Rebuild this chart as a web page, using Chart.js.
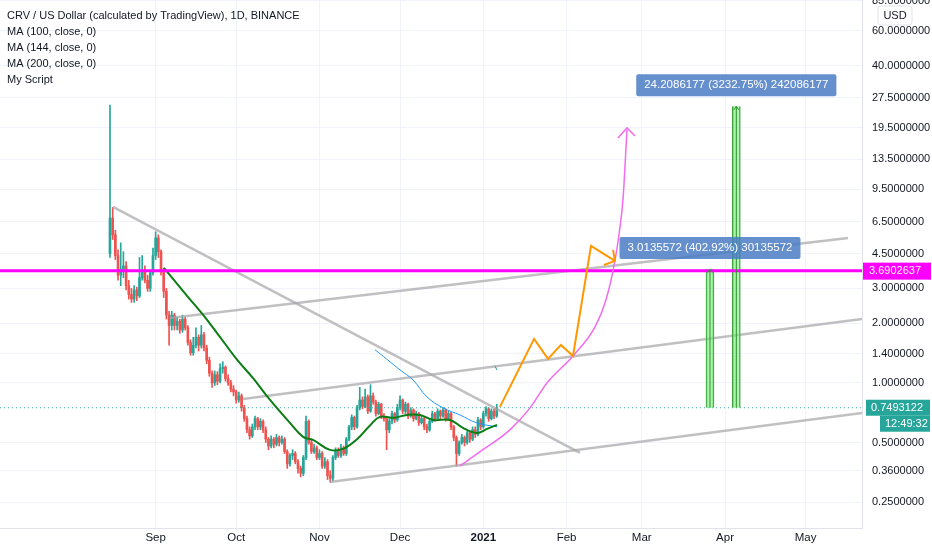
<!DOCTYPE html>
<html>
<head>
<meta charset="utf-8">
<script src="https://cdn.jsdelivr.net/npm/chart.js@4.4.0/dist/chart.umd.min.js"></script>
<style>
html, body { margin: 0; padding: 0; background: #fff; }
#wrap { width: 932px; height: 550px; }
</style>
</head>
<body>
<div id="wrap"><canvas id="graf"></canvas></div>
<script>
// day 0 = 15 Aug 2020, one candle per day
var opens = [4.5,6.8,5.6,4.4,3.5,3.75,3.9,3.1,2.8,2.65, 2.95,2.75,3.4,3.7,3.3,3.0,3.6,4.4,5.4,4.6,
  3.7,2.9,2.2,1.95,2.2,1.95,2.05,1.85,2.1,1.9, 1.6,1.42,1.55,1.7,1.55,1.75,1.5,1.3,1.12,1.0,
  1.1,1.02,1.18,1.2,1.05,1.0,0.93,0.9,0.82,0.86, 0.75,0.66,0.58,0.54,0.6,0.66,0.6,0.64,0.58,0.52,
  0.48,0.52,0.49,0.53,0.5,0.52,0.45,0.39,0.43,0.44, 0.4,0.37,0.35,0.42,0.64,0.5,0.45,0.47,0.42,0.44,
  0.38,0.4,0.34,0.33,0.42,0.45,0.43,0.47,0.44,0.52, 0.6,0.67,0.6,0.75,0.82,0.76,0.85,0.72,0.86,0.8,
  0.7,0.78,0.68,0.66,0.58,0.64,0.7,0.65,0.75,0.82, 0.72,0.78,0.68,0.73,0.66,0.7,0.63,0.66,0.6,0.58,
  0.64,0.7,0.66,0.72,0.68,0.73,0.66,0.7,0.6,0.53, 0.44,0.5,0.53,0.5,0.56,0.52,0.58,0.55,0.65,0.6,
  0.7,0.74,0.66,0.72,0.68];
var highs = [25.3,7.7,5.9,4.7,5.1,4.6,4.1,3.3,3.0,3.1, 3.05,4.3,4.4,3.9,3.5,3.7,4.8,5.8,5.6,4.7,
  3.8,3.0,2.3,2.3,2.25,2.15,2.1,2.2,2.15,1.95, 1.65,1.7,1.9,1.75,1.95,1.8,1.55,1.35,1.15,1.15,
  1.14,1.25,1.28,1.22,1.1,1.03,0.97,0.92,0.9,0.88, 0.77,0.68,0.6,0.62,0.68,0.67,0.66,0.65,0.6,0.53,
  0.54,0.53,0.55,0.54,0.54,0.53,0.46,0.44,0.46,0.45, 0.41,0.38,0.43,0.68,0.65,0.52,0.49,0.48,0.46,0.45,
  0.42,0.41,0.36,0.43,0.47,0.47,0.49,0.48,0.53,0.61, 0.69,0.68,0.77,0.95,0.85,0.93,0.87,0.98,0.89,0.82,
  0.8,0.79,0.7,0.67,0.66,0.72,0.71,0.78,0.86,0.83, 0.8,0.79,0.75,0.74,0.72,0.71,0.68,0.67,0.62,0.65,
  0.72,0.71,0.74,0.73,0.75,0.74,0.72,0.71,0.61,0.54, 0.51,0.55,0.54,0.57,0.57,0.6,0.6,0.67,0.66,0.72,
  0.76,0.75,0.74,0.74,0.78];
var lows = [4.3,5.3,4.2,3.3,3.1,3.4,2.95,2.65,2.55,2.55, 2.6,2.7,3.3,3.2,2.9,2.9,3.5,4.2,4.3,3.5,
  2.7,2.1,1.55,1.85,1.85,1.85,1.78,1.8,1.85,1.55, 1.38,1.38,1.5,1.45,1.5,1.45,1.25,1.08,0.95,0.97,
  0.98,1.0,1.12,1.02,0.97,0.9,0.86,0.79,0.8,0.72, 0.64,0.56,0.52,0.53,0.58,0.58,0.58,0.56,0.5,0.46,
  0.47,0.47,0.48,0.48,0.49,0.44,0.37,0.38,0.41,0.39, 0.35,0.335,0.34,0.41,0.49,0.44,0.44,0.41,0.41,0.37,
  0.37,0.325,0.315,0.32,0.41,0.42,0.42,0.43,0.43,0.51, 0.58,0.58,0.59,0.73,0.74,0.75,0.7,0.71,0.78,0.68,
  0.69,0.66,0.64,0.46,0.56,0.62,0.63,0.64,0.73,0.7, 0.7,0.66,0.67,0.64,0.65,0.61,0.62,0.58,0.56,0.57,
  0.63,0.64,0.65,0.66,0.67,0.64,0.65,0.58,0.51,0.38, 0.43,0.49,0.48,0.49,0.5,0.51,0.53,0.54,0.58,0.59,
  0.68,0.64,0.65,0.66,0.67];
var closes = [6.8,5.6,4.4,3.5,3.75,3.9,3.1,2.8,2.65,2.95, 2.75,3.4,3.7,3.3,3.0,3.6,4.4,5.4,4.6,3.7,
  2.9,2.2,1.95,2.2,1.95,2.05,1.85,2.1,1.9,1.6, 1.42,1.55,1.7,1.55,1.75,1.5,1.3,1.12,1.0,1.1,
  1.02,1.18,1.2,1.05,1.0,0.93,0.9,0.82,0.86,0.75, 0.66,0.58,0.54,0.6,0.66,0.6,0.64,0.58,0.52,0.48,
  0.52,0.49,0.53,0.5,0.52,0.45,0.39,0.43,0.44,0.4, 0.37,0.35,0.42,0.64,0.5,0.45,0.47,0.42,0.44,0.38,
  0.4,0.34,0.33,0.42,0.45,0.43,0.47,0.44,0.52,0.6, 0.67,0.6,0.75,0.82,0.76,0.85,0.72,0.86,0.8,0.7,
  0.78,0.68,0.66,0.58,0.64,0.7,0.65,0.75,0.82,0.72, 0.78,0.68,0.73,0.66,0.7,0.63,0.66,0.6,0.58,0.64,
  0.7,0.66,0.72,0.68,0.73,0.66,0.7,0.6,0.53,0.44, 0.5,0.53,0.5,0.56,0.52,0.58,0.55,0.65,0.6,0.7,
  0.74,0.66,0.72,0.68,0.7493122];

// moving averages [day, price]
var maGreen = [[20.1,3.81],[29,2.72],[34.6,2.21],[39.8,1.79],[47.3,1.31],[53.2,1.06],[59.6,0.82],
  [67,0.628],[71.9,0.534],[75.6,0.515],[81.9,0.459],[86.7,0.464],[92,0.52],[96.8,0.61],[100.5,0.674],
  [105.4,0.666],[110.6,0.689],[115.4,0.689],[120.3,0.65],[126.6,0.65],[131.4,0.593],[136.6,0.559],
  [140.4,0.586],[144.1,0.614]];
var maBlue = [[98.7,1.47],[103,1.32],[108,1.163],[112.8,1.036],[118,0.85],[124,0.748],[130.3,0.689],
  [136.6,0.628],[144.1,0.6]];
var maTeal = [[143.3,1.22],[144.1,1.16]];

// drawings [day, price]
var trendDown = [[1.1,7.74],[175,0.443]];
var channelTop = [[22.3,2.13],[274.8,5.4]];
var channelMid = [[49.5,0.83],[280,2.105]];
var channelLow = [[81.9,0.316],[280,0.705]];
var pathOrange = [[145.2,0.757],[157.9,1.668],[163.1,1.322],[167.9,1.556],[172.4,1.369],[179.1,4.92],[188,4.13]];
var arrowOrange = [[183.9,3.94],[188,4.13],[187.3,4.7]];
var curvePink = [[130.3,0.381],[137.7,0.448],[148.9,0.579],[156.4,0.748],[162.7,1.0],[172.4,1.369],
  [180.6,1.918],[184.7,2.63],[188,4.13],[189.9,6.14],[191,8.4],[192.5,18.95]];
var arrowPink = [[189.1,17.27],[192.5,19.4],[195.5,17.67]];
var levelMagenta = 3.6902637;
var lastPrice = 0.7493122;
var measures = [
  {day: 223.4, from: 0.7493122, to: 3.7628694, text: '3.0135572 (402.92%) 30135572'},
  {day: 233.2, from: 0.7493122, to: 24.9579299, text: '24.2086177 (3232.75%) 242086177'}
];

var monthDays = [17, 47, 78, 108, 139, 170, 198, 229, 259];
var monthLabels = ['Sep', 'Oct', 'Nov', 'Dec', '2021', 'Feb', 'Mar', 'Apr', 'May'];
var priceTicks = [0.25, 0.36, 0.5, 1.0, 1.4, 2.0, 3.0, 4.5, 6.5, 9.5, 13.5, 19.5, 27.5, 40, 60, 85];
var legendLines = ['CRV / US Dollar (calculated by TradingView), 1D, BINANCE', 'MA (100, close, 0)',
  'MA (144, close, 0)', 'MA (200, close, 0)', 'My Script'];

var UP = '#26a69a', DOWN = '#ef5350';
var FONT = "'Liberation Sans', Arial, sans-serif";

function pts(arr) { return arr.map(function (p) { return {x: p[0], y: p[1]}; }); }
function lineSet(arr, color, width, order, extra) {
  var d = {type: 'line', data: pts(arr), borderColor: color, borderWidth: width, pointRadius: 0,
    fill: false, order: order, tension: 0};
  for (var k in extra) d[k] = extra[k];
  return d;
}

var candleColors = closes.map(function (c, i) { return c >= opens[i] ? UP : DOWN; });
var wicks = closes.map(function (c, i) { return {x: i, y: [lows[i], highs[i]]}; });
var bodies = closes.map(function (c, i) { return {x: i, y: [opens[i], c]}; });

var overlay = {
  id: 'overlay',
  afterDraw: function (chart) {
    var ctx = chart.ctx, xs = chart.scales.x, ys = chart.scales.y;
    ctx.save();
    ctx.textBaseline = 'middle';
    ctx.font = '11px ' + FONT;
    ctx.fillStyle = '#131722';
    legendLines.forEach(function (t, i) { ctx.fillText(t, 7, 16 + i * 16); });

    // measure labels
    ctx.font = '11.5px ' + FONT;
    measures.forEach(function (m) {
      var cx = xs.getPixelForValue(m.day), top = ys.getPixelForValue(m.to);
      var w = ctx.measureText(m.text).width + 16, h = 22;
      ctx.fillStyle = 'rgba(74,124,196,0.85)';
      ctx.beginPath();
      ctx.roundRect(cx - w / 2, top - 10 - h, w, h, 2);
      ctx.fill();
      ctx.fillStyle = '#fff';
      ctx.textAlign = 'center';
      ctx.fillText(m.text, cx, top - 10 - h / 2);
      ctx.textAlign = 'left';
    });

    // USD badge
    ctx.font = '11px ' + FONT;
    ctx.fillStyle = '#fff';
    ctx.strokeStyle = '#e0e3eb';
    ctx.beginPath();
    ctx.roundRect(878, 6, 34, 19, 3);
    ctx.fill();
    ctx.stroke();
    ctx.fillStyle = '#131722';
    ctx.textAlign = 'center';
    ctx.fillText('USD', 895, 16);

    // axis price labels
    var ym = ys.getPixelForValue(levelMagenta);
    ctx.fillStyle = '#ff00ff';
    ctx.fillRect(863, ym - 8, 68, 17);
    ctx.fillStyle = '#fff';
    ctx.textAlign = 'left';
    ctx.fillText(levelMagenta.toFixed(7), 869, ym);
    var yl = ys.getPixelForValue(lastPrice);
    ctx.fillStyle = UP;
    ctx.fillRect(866, yl - 8, 64, 16);
    ctx.fillRect(880, yl + 8, 50, 16);
    ctx.fillStyle = '#fff';
    ctx.fillText(lastPrice.toFixed(7), 871, yl);
    ctx.fillText('12:49:32', 885, yl + 16);
    ctx.restore();
  }
};

var datasets = [
  lineSet(trendDown, 'rgba(165,165,170,0.7)', 2.5, 3),
  lineSet(channelTop, 'rgba(165,165,170,0.7)', 2.5, 3),
  lineSet(channelMid, 'rgba(165,165,170,0.7)', 2.5, 3),
  lineSet(channelLow, 'rgba(165,165,170,0.7)', 2.5, 3),
  lineSet([[-41, lastPrice], [280, lastPrice]], UP, 1, 4, {borderDash: [1, 3]}),
  lineSet(maGreen, '#0b7d14', 2, 2, {tension: 0.4}),
  lineSet(maBlue, '#2196f3', 1, 2, {tension: 0.4}),
  lineSet(maTeal, UP, 1, 2),
  lineSet([[-41, levelMagenta], [280, levelMagenta]], '#ff00ff', 3, 1),
  lineSet(pathOrange, '#ff9800', 2, 0),
  lineSet(arrowOrange, '#ff9800', 2, 0),
  lineSet(curvePink, '#f06cf0', 1.5, 0, {cubicInterpolationMode: 'monotone'}),
  lineSet(arrowPink, '#f06cf0', 1.5, 0),
  {type: 'bar', data: wicks, backgroundColor: candleColors, barThickness: 1, grouped: false, order: 6},
  {type: 'bar', data: bodies, backgroundColor: candleColors, barThickness: 2, minBarLength: 1, grouped: false, order: 5},
  {type: 'bar', data: measures.map(function (m) { return {x: m.day, y: [m.from, m.to]}; }),
    backgroundColor: 'rgba(120,235,120,0.6)', borderColor: '#3aa33a', borderWidth: {left: 1, right: 1, top: 0, bottom: 0},
    borderSkipped: false, barThickness: 8, grouped: false, order: 1}
];
measures.forEach(function (m) {
  datasets.push(lineSet([[m.day, m.from], [m.day, m.to]], '#2f8f2f', 1, 0));
  datasets.push(lineSet([[m.day - 0.9, m.to * 0.96], [m.day, m.to], [m.day + 0.9, m.to * 0.96]], '#2f8f2f', 1, 0));
});

new Chart(document.getElementById('graf'), {
  type: 'bar',
  data: {datasets: datasets},
  options: {
    responsive: true,
    maintainAspectRatio: false,
    animation: false,
    layout: {padding: 0},
    plugins: {legend: {display: false}, tooltip: {enabled: false}},
    scales: {
      x: {
        type: 'linear', min: -40.95, max: 280, offset: false,
        grid: {color: '#f0f3fa', drawTicks: false, offset: false},
        border: {color: '#e0e3eb'},
        afterBuildTicks: function (axis) { axis.ticks = monthDays.map(function (v) { return {value: v}; }); },
        afterFit: function (axis) { axis.height = 22; axis.paddingLeft = 0; axis.paddingRight = 0; },
        ticks: {
          autoSkip: false, maxRotation: 0, padding: 3, color: '#131722',
          font: function (c) { return {family: FONT, size: 11.5, weight: c.tick && c.tick.value === 139 ? 'bold' : 'normal'}; },
          callback: function (v) { return monthLabels[monthDays.indexOf(v)]; }
        }
      },
      y: {
        type: 'logarithmic', position: 'right', min: 0.185, max: 85.9,
        grid: {color: '#f0f3fa', drawTicks: false},
        border: {color: '#e0e3eb'},
        afterBuildTicks: function (axis) { axis.ticks = priceTicks.map(function (v) { return {value: v}; }); },
        afterFit: function (axis) { axis.width = 70; axis.paddingTop = 0; axis.paddingBottom = 0; },
        ticks: {
          padding: 10, color: '#131722', font: {family: FONT, size: 11},
          callback: function (v) { return Number(v).toFixed(7); }
        }
      }
    }
  },
  plugins: [overlay]
});
</script>
</body>
</html>
